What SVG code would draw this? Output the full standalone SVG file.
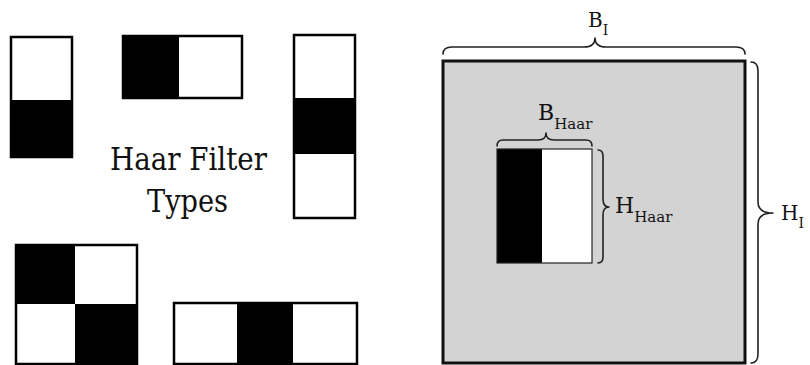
<svg xmlns="http://www.w3.org/2000/svg" width="810" height="365" viewBox="0 0 810 365">
  <style>
    .w { fill: #ffffff; }
    .b { fill: #000000; }
    .frame { fill: none; stroke: #000000; stroke-width: 2.5; }
    .brace { fill: none; stroke: #222222; stroke-width: 1.6; stroke-linecap: round; stroke-linejoin: round; }
    text { fill: #111111; font-family: 'DejaVu Serif', 'Noto Serif', 'Liberation Serif', 'Times New Roman', serif; }
  </style>

  <rect x="0" y="0" width="810" height="365" fill="#ffffff"/>

  <!-- two-rectangle vertical edge filter -->
  <g id="filter-edge-vertical">
    <rect class="w" x="11" y="37" width="61" height="63"/>
    <rect class="b" x="11" y="100" width="61" height="57"/>
    <rect class="frame" x="11" y="37" width="61" height="120"/>
  </g>

  <!-- two-rectangle horizontal edge filter -->
  <g id="filter-edge-horizontal">
    <rect class="b" x="123" y="36" width="56" height="62"/>
    <rect class="w" x="179" y="36" width="63" height="62"/>
    <rect class="frame" x="123" y="36" width="119" height="62"/>
  </g>

  <!-- three-rectangle vertical line filter -->
  <g id="filter-line-vertical">
    <rect class="w" x="294" y="35" width="61" height="63"/>
    <rect class="b" x="294" y="98" width="61" height="56"/>
    <rect class="w" x="294" y="154" width="61" height="64"/>
    <rect class="frame" x="294" y="35" width="61" height="183"/>
  </g>

  <!-- caption -->
  <g id="caption">
    <text x="110" y="170" font-size="32" textLength="157" lengthAdjust="spacingAndGlyphs">Haar Filter</text>
    <text x="147" y="212" font-size="32" textLength="81" lengthAdjust="spacingAndGlyphs">Types</text>
  </g>

  <!-- four-rectangle diagonal filter -->
  <g id="filter-diagonal">
    <rect class="b" x="16" y="245" width="59" height="59"/>
    <rect class="w" x="75" y="245" width="62" height="59"/>
    <rect class="w" x="16" y="304" width="59" height="60"/>
    <rect class="b" x="75" y="304" width="62" height="60"/>
    <rect class="frame" x="16" y="245" width="121" height="119"/>
  </g>

  <!-- three-rectangle horizontal line filter -->
  <g id="filter-line-horizontal">
    <rect class="w" x="174" y="303" width="63" height="61"/>
    <rect class="b" x="237" y="303" width="56" height="61"/>
    <rect class="w" x="293" y="303" width="64" height="61"/>
    <rect class="frame" x="174" y="303" width="183" height="61"/>
  </g>

  <!-- image area -->
  <g id="image">
    <rect x="443" y="61" width="302" height="302" fill="#d3d3d3" stroke="#111111" stroke-width="3"/>
  </g>

  <!-- filter placed inside the image -->
  <g id="haar-window">
    <rect class="b" x="497" y="149" width="45" height="114"/>
    <rect class="w" x="542" y="149" width="50" height="114"/>
    <rect x="497" y="149" width="95" height="114" fill="none" stroke="#222222" stroke-width="1.2"/>
  </g>

  <!-- dimension braces -->
  <g id="connectors">
    <path class="brace" d="M443,54 Q443,47 452,47 L584,47 Q595,47 595,38 Q595,47 606,47 L736,47 Q745,47 745,54"/>
    <path class="brace" d="M751,62 Q758,62 758,71 L758,202 Q758,213 773,213 Q758,213 758,224 L758,354 Q758,363 751,363"/>
    <path class="brace" d="M497,146 Q497,140 503,140 L538,140 Q546,140 546,133 Q546,140 554,140 L586,140 Q592,140 592,146"/>
    <path class="brace" d="M598,150 Q603,150 603,156 L603,199 Q603,207 609,207 Q603,207 603,215 L603,257 Q603,263 598,263"/>
  </g>

  <!-- dimension labels -->
  <g id="labels">
    <text x="588" y="27" font-size="20">B<tspan font-size="14" dy="8">I</tspan></text>
    <text x="781" y="220" font-size="20">H<tspan font-size="14" dy="8">I</tspan></text>
    <text x="538" y="120" font-size="22">B<tspan font-size="15" dy="9">Haar</tspan></text>
    <text x="615" y="213" font-size="22">H<tspan font-size="15" dy="9">Haar</tspan></text>
  </g>
</svg>
